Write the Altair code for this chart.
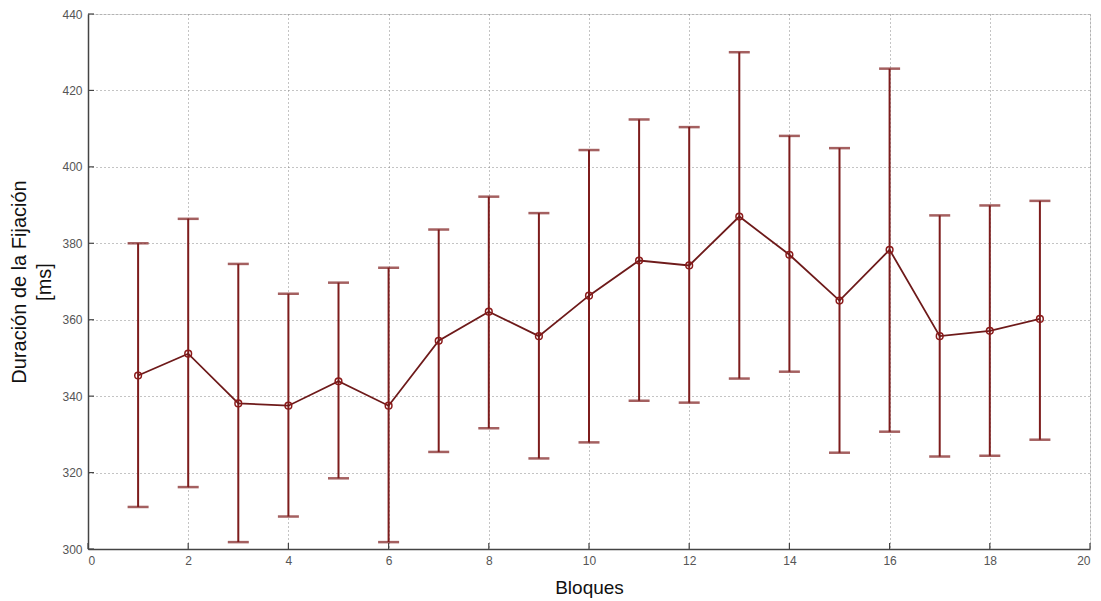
import altair as alt
import pandas as pd

bloques = list(range(1, 20))
media = [345.4, 351.1, 338.1, 337.5, 343.9, 337.5, 354.5, 362.1, 355.7, 366.3,
         375.5, 374.2, 387.0, 377.0, 365.0, 378.3, 355.7, 357.1, 360.2]
superior = [380.0, 386.4, 374.6, 366.8, 369.7, 373.6, 383.6, 392.2, 387.9, 404.4,
            412.4, 410.4, 430.0, 408.1, 404.9, 425.7, 387.3, 389.9, 391.1]
inferior = [311.0, 316.2, 301.8, 308.5, 318.5, 301.8, 325.4, 331.6, 323.7, 327.9,
            338.8, 338.3, 344.6, 346.4, 325.2, 330.7, 324.2, 324.4, 328.6]
x_ticks = [0, 2, 4, 6, 8, 10, 12, 14, 16, 18, 20]
y_ticks = [300, 320, 340, 360, 380, 400, 420, 440]

df = pd.DataFrame({"b": bloques, "m": media, "hi": superior, "lo": inferior})
dfx = pd.DataFrame({"t": x_ticks})
dfy = pd.DataFrame({"t": y_ticks})

RED = "#7d1c1c"
xs = alt.Scale(domain=[0, 20], nice=False, zero=False)
ys = alt.Scale(domain=[300, 440], nice=False, zero=False)

xaxis = alt.Axis(values=x_ticks, title="Bloques", grid=True, gridDash=[1, 3],
                 gridColor="#888", gridWidth=1, tickSize=0, labelPadding=6,
                 domainColor="#444", domainWidth=1.5,
                 labelFont="Liberation Sans", labelFontSize=12, labelColor="#555",
                 titleFont="Liberation Sans", titleFontSize=19, titleFontWeight="normal",
                 titleColor="#111", titlePadding=12)
yaxis = alt.Axis(values=y_ticks, title=["Duración de la Fijación", "[ms]"], grid=True,
                 gridDash=[1, 3], gridColor="#888", gridWidth=1, tickSize=0, labelPadding=6,
                 domainColor="#444", domainWidth=1.5,
                 labelFont="Liberation Sans", labelFontSize=12, labelColor="#555",
                 titleFont="Liberation Sans", titleFontSize=20, titleFontWeight="normal",
                 titleColor="#111", titlePadding=7, titleLineHeight=25)

base = alt.Chart(df)

rules = base.mark_rule(color=RED, strokeWidth=2).encode(
    x=alt.X("b:Q", scale=xs, axis=xaxis),
    y=alt.Y("lo:Q", scale=ys, axis=yaxis),
    y2="hi:Q",
)
cap_hi = base.mark_tick(color=RED, orient="horizontal", size=21, thickness=2.5).encode(
    x=alt.X("b:Q", scale=xs), y=alt.Y("hi:Q", scale=ys))
cap_lo = base.mark_tick(color=RED, orient="horizontal", size=21, thickness=2.5).encode(
    x=alt.X("b:Q", scale=xs), y=alt.Y("lo:Q", scale=ys))
line = base.mark_line(color="#6e1a1a", strokeWidth=1.8).encode(
    x=alt.X("b:Q", scale=xs), y=alt.Y("m:Q", scale=ys))
pts = base.mark_point(color="#8b1a1a", filled=False, size=45, strokeWidth=1.5, opacity=1).encode(
    x=alt.X("b:Q", scale=xs), y=alt.Y("m:Q", scale=ys))

xt = alt.Chart(dfx).mark_rule(color="#444", strokeWidth=1.2).encode(
    x=alt.X("t:Q", scale=xs), y=alt.value(535), y2=alt.value(529))
yt = alt.Chart(dfy).mark_rule(color="#444", strokeWidth=1.2).encode(
    y=alt.Y("t:Q", scale=ys), x=alt.value(0), x2=alt.value(6))

chart = alt.layer(xt, yt, rules, cap_hi, cap_lo, line, pts).properties(
    width=1002, height=535,
    autosize=alt.AutoSizeParams(type="none"),
    padding={"left": 88, "top": 14, "right": 11, "bottom": 52},
).configure_view(stroke=None).configure(background="white")

chart.save("out.html", embed_options={"renderer": "svg", "actions": False})
